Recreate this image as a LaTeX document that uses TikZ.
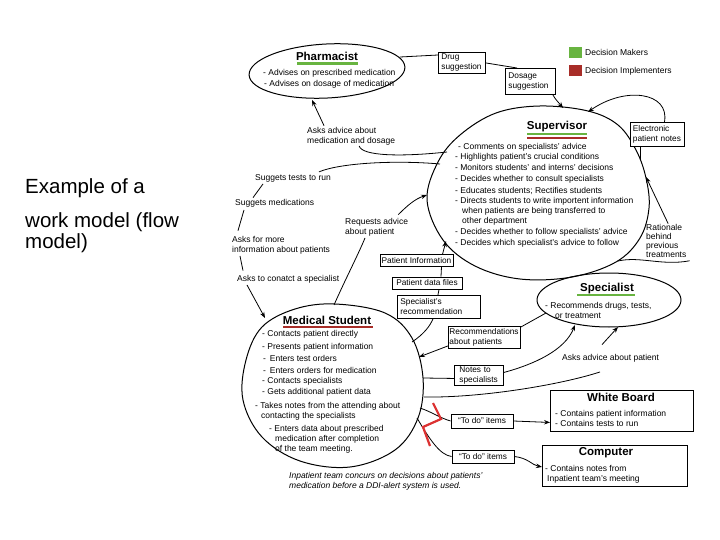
\documentclass[tikz,border=0pt]{standalone}
\usepackage{fontspec}
\setmainfont{Liberation Sans}
\usetikzlibrary{arrows.meta}
\definecolor{dmgreen}{RGB}{104,180,64}
\definecolor{dired}{RGB}{168,45,40}
\definecolor{boltred}{RGB}{220,50,50}
\newcommand\fsm{\fontsize{8.5}{10}\selectfont}
\newcommand\fbx{\fontsize{8.3}{10}\selectfont}
\newcommand\fti{\fontsize{11.5}{13}\selectfont\bfseries}
\newcommand\fbig{\fontsize{20.5}{24}\selectfont}
\begin{document}
\begin{tikzpicture}[x=1pt,y=-1pt,
  lbl/.style={anchor=base west, inner sep=0pt, font=\fsm},
  ttl/.style={anchor=base, inner sep=0pt, font=\fti},
  bx/.style={draw, line width=0.9pt, fill=white, font=\fbx, align=left, inner ysep=1pt, anchor=north west},
  bigbox/.style={draw, line width=0.9pt, fill=white, inner sep=0pt, anchor=north west},
  conn/.style={line width=0.8pt},
  arr/.style={conn, -{Stealth[length=6pt,width=4.5pt]}},
  shp/.style={line width=1pt},
  ul/.style={line width=2.2pt}
]
\useasboundingbox (0,0) rectangle (720,540);
\fill[white] (0,0) rectangle (720,540);

% ---- left slide text
\node[anchor=base west, inner sep=0pt, font=\fbig] (t1) at (25,194) {Example of a};
\node[anchor=base west, inner sep=0pt, font=\fbig] (t2) at (25,227.5) {work model (flow};
\node[anchor=base west, inner sep=0pt, font=\fbig] (t3) at (25,248.5) {model)};

% ---- shapes
\draw[shp, rotate around={3:(327,71)}] (327,71) ellipse [x radius=78, y radius=27];
\draw[shp] plot[smooth cycle, tension=0.6] coordinates {(540,106) (588,111) (618,125) (636,150) (646,178) (649,208) (640,238) (616,262) (572,277) (520,279) (475,266) (443,240) (427,200) (438,162) (460,135) (496,113)};
\draw[shp] (609,300) ellipse [x radius=72, y radius=27];
\draw[shp] plot[smooth cycle, tension=0.6] coordinates {(335,304) (385,313) (412,338) (423,378) (418,418) (395,450) (350,467) (300,461) (262,437) (243,400) (246,360) (262,327) (295,309)};

% ---- boundary points
\coordinate (pha-e) at (400,57);
\coordinate (pha-s) at (312,100);
\coordinate (sup-t1) at (563,108);
\coordinate (sup-t2) at (588,112);
\coordinate (sup-r1) at (640,160);
\coordinate (sup-r2) at (646,177);
\coordinate (sup-br) at (618,261);
\coordinate (sup-l1) at (447,152);
\coordinate (sup-l2) at (440,164);
\coordinate (sup-l3) at (427,195);
\coordinate (sup-bl) at (446,241);
\coordinate (spec-l) at (546,313);
\coordinate (spec-b1) at (575,325);
\coordinate (spec-b2) at (618,327);
\coordinate (ms-t) at (334,305);
\coordinate (ms-tl) at (265,318);
\coordinate (ms-r1) at (412,342);
\coordinate (ms-r2) at (419,357);
\coordinate (ms-r3) at (423,378);
\coordinate (ms-r4) at (424,397);
\coordinate (ms-r5) at (420,408);
\coordinate (ms-r6) at (417,418);

% ---- legend
\fill[dmgreen] (569,47) rectangle (582,58);
\fill[dired] (569,65) rectangle (582,76);
\node[lbl] (lg1) at (585,55.5) {Decision Makers};
\node[lbl] (lg2) at (585,73.5) {Decision Implementers};

% ---- Pharmacist text
\node[ttl] (phT) at (327,60.7) {Pharmacist};
\draw[ul, dmgreen] (297,63.5) -- (358,63.5);
\node[lbl] (ph1) at (263,75.5) {- Advises on prescribed medication};
\node[lbl] (ph2) at (264,86.5) {- Advises on dosage of medication};

% ---- Supervisor text
\node[ttl] (suT) at (557,129.3) {Supervisor};
\draw[ul, dmgreen] (527,134.3) -- (587,134.3);
\draw[ul, dired] (527,137.8) -- (587,137.8);
\node[lbl] (su1) at (458,149.5) {- Comments on specialists' advice};
\node[lbl] (su2) at (455,160) {- Highlights patient's crucial conditions};
\node[lbl] (su3) at (455,171) {- Monitors students' and interns' decisions};
\node[lbl] (su4) at (455,182) {- Decides whether to consult specialists};
\node[lbl] (su5) at (455,194) {- Educates students; Rectifies students};
\node[lbl] (su6) at (455,204) {- Directs students to write importent information};
\node[lbl] (su7) at (462,214) {when patients are being transferred to};
\node[lbl] (su8) at (462,224) {other department};
\node[lbl] (su9) at (455,235) {- Decides whether to follow specialists' advice};
\node[lbl] (su10) at (455,245.5) {- Decides which specialist's advice to follow};

% ---- Specialist text
\node[ttl] (spT) at (607,291.5) {Specialist};
\draw[ul, dmgreen] (577,295) -- (635,295);
\node[lbl] (sp1) at (545,308) {- Recommends drugs, tests,};
\node[lbl] (sp2) at (555,318) {or treatment};

% ---- Medical student text
\node[ttl] (msT) at (327,324) {Medical Student};
\draw[ul, dired] (283,327.2) -- (373,327.2);
\node[lbl] (ms1) at (262,336) {- Contacts patient directly};
\node[lbl] (ms2) at (262,349.5) {- Presents patient information};
\node[lbl] (ms3) at (263,361) {-\hspace{1.5pt} Enters test orders};
\node[lbl] (ms4) at (263,373) {-\hspace{1.5pt} Enters orders for medication};
\node[lbl] (ms5) at (262,383) {- Contacts specialists};
\node[lbl] (ms6) at (262,394.5) {- Gets additional patient data};
\node[lbl] (ms7) at (255,408) {- Takes notes from the attending about};
\node[lbl] (ms8) at (261,418.5) {contacting the specialists};
\node[lbl] (ms9) at (269,431) {- Enters data about prescribed};
\node[lbl] (ms10) at (275,441) {medication after completion};
\node[lbl] (ms11) at (275,451) {of the team meeting.};
\node[lbl, font=\fsm\itshape] (it1) at (289,478) {Inpatient team concurs on decisions about patients'};
\node[lbl, font=\fsm\itshape] (it2) at (289,488) {medication before a DDI-alert system is used.};

% ---- White board and computer
\node[bigbox, minimum width=143pt, minimum height=41pt] (wb) at (550,390) {};
\node[ttl] (wbT) at (621,401.5) {White Board};
\node[lbl] (wb1) at (555,416) {- Contains patient information};
\node[lbl] (wb2) at (555,426) {- Contains tests to run};
\node[bigbox, minimum width=145pt, minimum height=41pt] (comp) at (542,445) {};
\node[ttl] (cpT) at (606,455.5) {Computer};
\node[lbl] (cp1) at (545,471) {- Contains notes from};
\node[lbl] (cp2) at (547,481) {Inpatient team's meeting};

% ---- small boxes
\node[bx, text width=41pt, inner xsep=3pt, minimum height=21pt] (drug) at (438,52) {Drug\\suggestion};
\node[bx, text width=44pt, inner xsep=3pt, minimum height=26pt] (dosage) at (505,68) {Dosage\\suggestion};
\node[bx, text width=49pt, inner xsep=2.5pt, minimum height=24pt] (elec) at (630,122) {Electronic\\patient notes};
\node[bx, anchor=center, minimum width=73pt, minimum height=11.5pt, inner xsep=1pt, inner ysep=0.5pt] (patinfo) at (416.5,260.5) {Patient Information};
\node[bx, anchor=center, minimum width=70pt, minimum height=12pt, inner ysep=0.5pt] (datafiles) at (427,283) {Patient data files};
\node[bx, text width=77pt, inner xsep=3pt, minimum height=23pt] (specrec) at (397,295) {Specialist's\\recommendation};
\node[bx, text width=70pt, inner xsep=1pt, minimum height=22pt] (recs) at (448,326) {Recommendations\\about patients};
\node[bx, text width=39pt, inner xsep=5pt, minimum height=20pt] (notes) at (454,365) {Notes to\\specialists};
\node[bx, anchor=center, minimum width=62pt, minimum height=14pt, inner ysep=0.5pt] (todo1) at (482,421) {“To do” items};
\node[bx, anchor=center, minimum width=62pt, minimum height=13pt, inner ysep=0.5pt] (todo2) at (483,456.5) {“To do” items};

% ---- free labels
\node[lbl] (rat1) at (646,230) {Rationale};
\node[lbl] (rat2) at (646,239.5) {behind};
\node[lbl] (rat3) at (646,248.5) {previous};
\node[lbl] (rat4) at (646,257.5) {treatments};
\node[lbl] (am1) at (307,134) {Asks advice about};
\node[lbl] (am2) at (307,144) {medication and dosage};
\node[lbl] (st) at (255,181) {Suggets tests to run};
\node[lbl] (sm) at (235,206) {Suggets medications};
\node[lbl] (af1) at (232,242) {Asks for more};
\node[lbl] (af2) at (232,252) {information about patients};
\node[lbl] (ac) at (237,281) {Asks to conatct a specialist};
\node[lbl] (rq1) at (345,225) {Requests advice};
\node[lbl] (rq2) at (345,234) {about patient};
\node[lbl] (aap) at (562,360) {Asks advice about patient};

% ---- connectors
\draw[conn] (pha-e) -- ([yshift=-3pt]drug.north west);
\draw[conn] (drug.east) -- ([xshift=12pt]dosage.north west);
\draw[arr] ([xshift=-3pt]dosage.south east) .. controls (555,99) and (559,103) .. (sup-t1);
\draw[arr] ([xshift=7pt]elec.north) .. controls (670,92) and (625,86) .. (sup-t2);
\draw[conn] (sup-r1) -- ([xshift=10pt]elec.south west);
\draw[arr] ([xshift=4pt]rat1.north) -- (sup-r2);
\draw[conn] (sup-br) .. controls (640,256) and (662,266) .. ([xshift=3pt,yshift=-3pt]rat4.south east);

\draw[arr] ([xshift=17pt,yshift=2pt]am1.north west) -- (pha-s);
\draw[conn] ([xshift=8pt]am2.south) .. controls (362,156) and (400,157) .. (sup-l1);
\draw[conn] (sup-l2) .. controls (395,160) and (340,163) .. ([xshift=-12pt,yshift=3pt]st.north east);
\draw[conn] ([xshift=8pt,yshift=-1pt]st.south west) -- ([xshift=18pt,yshift=2pt]sm.north west);
\draw[conn] ([xshift=9pt,yshift=-2pt]sm.south west) -- ([xshift=6pt,yshift=5pt]af1.north west);
\draw[conn] ([xshift=8pt,yshift=-2pt]af2.south west) -- ([xshift=6pt,yshift=4pt]ac.north west);
\draw[arr] ([xshift=10pt,yshift=-2pt]ac.south west) -- (ms-tl);

\draw[arr] ([xshift=-10pt,yshift=4pt]rq1.north east) .. controls (408,205) and (415,199) .. (sup-l3);
\draw[conn] (ms-t) .. controls (345,280) and (358,255) .. ([xshift=20pt,yshift=-2pt]rq2.south west);

\draw[conn] (ms-r1) .. controls (424,334) and (430,326) .. ([xshift=-6pt]specrec.south);
\draw[conn] ([xshift=-1pt]specrec.north) -- ([xshift=12pt]datafiles.south);
\draw[conn] ([xshift=14pt]datafiles.north) -- ([xshift=25pt]patinfo.south);
\draw[arr] ([xshift=26pt]patinfo.north) -- (sup-bl);

\draw[conn] (spec-l) -- ([yshift=-1pt]recs.north east);
\draw[arr] ([yshift=3pt]recs.south west) -- (ms-r2);
\draw[conn] (ms-r3) -- ([yshift=-3pt]notes.west);
\draw[arr] ([yshift=3pt]notes.east) .. controls (535,364) and (565,350) .. (spec-b1);
\draw[conn] (ms-r4) .. controls (480,398) and (560,385) .. ([xshift=38pt,yshift=-10pt]aap.south west);
\draw[arr] ([xshift=40pt,yshift=9pt]aap.north west) -- (spec-b2);

\draw[conn] (ms-r5) .. controls (432,412) and (440,418) .. (todo1.west);
\draw[arr] (todo1.east) -- ([yshift=-11.5pt]wb.west);
\draw[conn] (ms-r6) .. controls (430,440) and (440,455) .. (todo2.west);
\draw[arr] (todo2.east) .. controls (528,458) and (532,465) .. ([yshift=-1pt]comp.west);

\draw[line width=2.2pt, boltred] (433,403) -- (441,419) -- (423,427) -- (430,446);
\end{tikzpicture}
\end{document}
